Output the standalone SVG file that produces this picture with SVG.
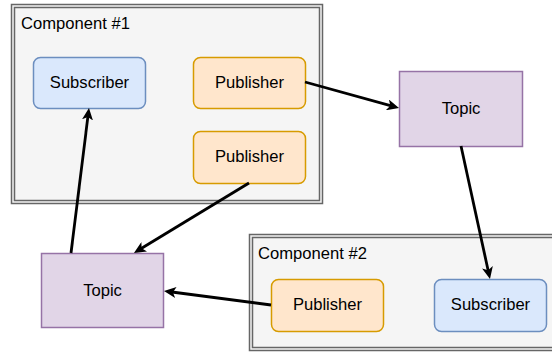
<svg xmlns="http://www.w3.org/2000/svg" width="552" height="352" viewBox="0 0 552 352">
<style>
text{font-family:"Liberation Sans",Arial,sans-serif;font-size:16.6px;fill:#000;text-anchor:middle}
.lbl{text-anchor:start}
.cont{fill:#f5f5f5;stroke:#666666;stroke-width:1.5}
.cin{fill:none;stroke:#666666;stroke-width:1.5}
.sub{fill:#dae8fc;stroke:#6c8ebf;stroke-width:1.5}
.pub{fill:#ffe6cc;stroke:#d79b00;stroke-width:1.5}
.top{fill:#e1d5e7;stroke:#9673a6;stroke-width:1.5}
.edge{fill:none;stroke:#000;stroke-width:2.8;marker-end:url(#ah)}
</style>
<defs>
<marker id="ah" viewBox="0 0 12 11" refX="4" refY="5.5" markerWidth="12" markerHeight="11" markerUnits="userSpaceOnUse" orient="auto">
<path d="M0,0 L12,5.5 L0,11 L3,5.5 Z" fill="#000"/>
</marker>
</defs>
<rect width="552" height="352" fill="#fff"/>
<g id="component1">
<rect class="cont" x="11.5" y="4.5" width="311" height="199"/>
<rect class="cin" x="14.5" y="7.5" width="305" height="193"/>
<text class="lbl" x="21" y="29">Component #1</text>
</g>
<g id="component2">
<rect class="cont" x="249.5" y="234.5" width="306" height="116"/>
<rect class="cin" x="252.5" y="237.5" width="306" height="110"/>
<text class="lbl" x="258" y="259">Component #2</text>
</g>
<g id="subscriber1">
<rect class="sub" x="33.5" y="57.5" width="112" height="51" rx="7"/>
<text x="89.5" y="88">Subscriber</text>
</g>
<g id="publisher1">
<rect class="pub" x="193.5" y="57.5" width="112" height="51" rx="7"/>
<text x="249.5" y="88">Publisher</text>
</g>
<g id="publisher2">
<rect class="pub" x="193.5" y="131.5" width="112" height="52" rx="7"/>
<text x="249.5" y="162">Publisher</text>
</g>
<g id="topic1">
<rect class="top" x="399.5" y="71.5" width="123" height="75"/>
<text x="461" y="114">Topic</text>
</g>
<g id="topic2">
<rect class="top" x="41.5" y="253.5" width="122" height="74"/>
<text x="102.5" y="296">Topic</text>
</g>
<g id="publisher3">
<rect class="pub" x="271.5" y="279.5" width="112" height="52" rx="7"/>
<text x="327.5" y="310">Publisher</text>
</g>
<g id="subscriber2">
<rect class="sub" x="434.5" y="279.5" width="112" height="52" rx="7"/>
<text x="490.5" y="310">Subscriber</text>
</g>
<g id="connectors">
<path class="edge" d="M305,82 L391.3,105.9"/>
<path class="edge" d="M461,146 L488.3,271.2"/>
<path class="edge" d="M249,183 L140.8,248.8"/>
<path class="edge" d="M71,253 L88,115.9"/>
<path class="edge" d="M271,305 L171.9,292"/>
</g>
</svg>
